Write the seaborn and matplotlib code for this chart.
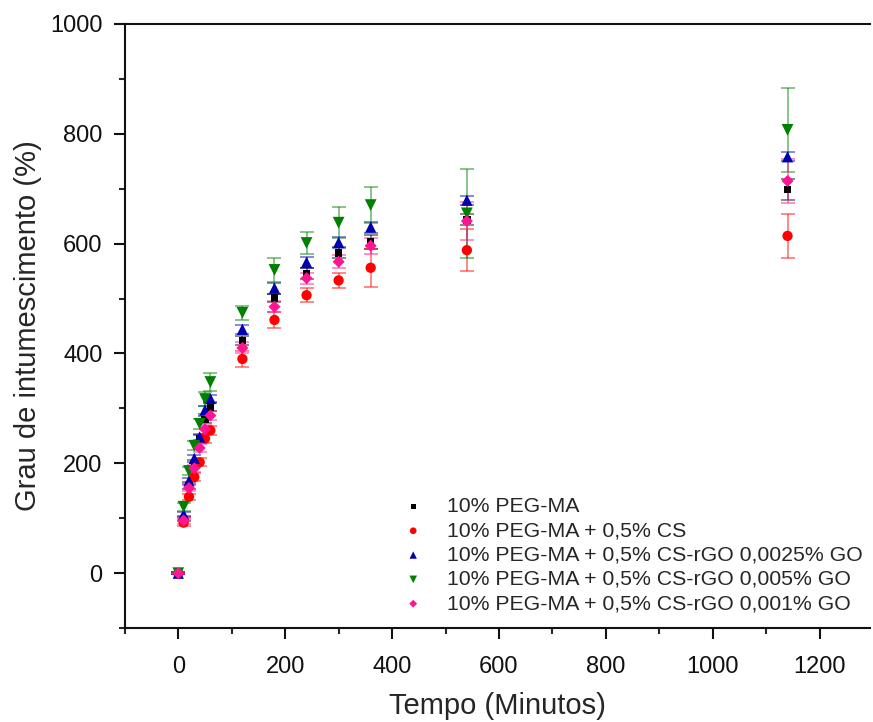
import matplotlib
matplotlib.use("Agg")
import matplotlib.pyplot as plt
import numpy as np
import pandas as pd
import seaborn as sns
from matplotlib.ticker import MultipleLocator

# time points (min)
tempo = [0, 10, 20, 30, 40, 50, 60, 120, 180, 240, 300, 360, 540, 1140]

labels = [
    "10% PEG-MA",
    "10% PEG-MA + 0,5% CS",
    "10% PEG-MA + 0,5% CS-rGO 0,0025% GO",
    "10% PEG-MA + 0,5% CS-rGO 0,005% GO",
    "10% PEG-MA + 0,5% CS-rGO 0,001% GO",
]

peg = [0, 100, 160, 200, 245, 280, 302, 424, 501, 545, 583, 603, 643, 698]
peg_err = [2, 5, 6, 6, 6, 7, 7, 8, 8, 10, 10, 12, 10, 19]

cs = [0, 92, 139, 175, 202, 245, 260, 390, 461, 506, 533, 556, 588, 614]
cs_err = [2, 6, 6, 7, 7, 8, 8, 15, 15, 13, 14, 35, 38, 40]

go0025 = [0, 107, 168, 209, 248, 297, 318, 444, 519, 566, 602, 630, 679, 758]
go0025_err = [2, 5, 6, 6, 6, 7, 7, 8, 10, 10, 10, 10, 8, 8]

go005 = [0, 121, 186, 232, 272, 317, 348, 474, 552, 601, 638, 670, 655, 807]
go005_err = [2, 7, 7, 8, 9, 12, 17, 13, 22, 20, 28, 33, 81, 76]

go001 = [0, 96, 155, 191, 228, 262, 287, 410, 485, 537, 567, 596, 641, 714]
go001_err = [2, 6, 6, 6, 7, 8, 8, 10, 10, 10, 12, 15, 35, 40]

series = [peg, cs, go0025, go005, go001]
errors = [peg_err, cs_err, go0025_err, go005_err, go001_err]
colors = ["#000000", "#ff0000", "#0000b0", "#008000", "#ff1493"]
markers = ["s", "o", "^", "v", "D"]
sizes = [28, 55, 66, 72, 38]

rows = []
for lab, vals, errs in zip(labels, series, errors):
    for t, v, e in zip(tempo, vals, errs):
        rows.append({"Tempo": t, "Grau": v, "err": e, "Amostra": lab})
df = pd.DataFrame(rows)

sns.set_theme(style="ticks")
plt.rcParams["font.family"] = ["Liberation Sans", "DejaVu Sans"]

fig, ax = plt.subplots(figsize=(8.73, 7.22), dpi=100)
fig.subplots_adjust(left=0.143, right=0.997, bottom=0.130, top=0.967)

for lab, col in zip(labels, colors):
    sub = df[df["Amostra"] == lab]
    ax.errorbar(sub["Tempo"], sub["Grau"], yerr=sub["err"], fmt="none",
                ecolor=col, alpha=0.5, elinewidth=1.3, capsize=5, capthick=1.3, zorder=2)

for lab, col, mk, sz in zip(labels, colors, markers, sizes):
    sub = df[df["Amostra"] == lab]
    sns.scatterplot(data=sub, x="Tempo", y="Grau", color=col, marker=mk, s=sz,
                    edgecolor="none", label=lab, ax=ax, zorder=3)

ax.set_xlim(-100, 1295)
ax.set_ylim(-100, 1000)
ax.xaxis.set_major_locator(MultipleLocator(200))
ax.xaxis.set_minor_locator(MultipleLocator(100))
ax.yaxis.set_major_locator(MultipleLocator(200))
ax.yaxis.set_minor_locator(MultipleLocator(100))
ax.tick_params(which="major", direction="out", length=8, width=1.5, labelsize=17, pad=6, colors="#111111")
ax.tick_params(which="minor", direction="out", length=4.5, width=1.5)
ax.tick_params(axis="x", pad=12)
ax.tick_params(axis="y", pad=8)
for side in ["left", "bottom", "top"]:
    ax.spines[side].set_linewidth(1.5)
    ax.spines[side].set_color("#111111")
ax.spines["right"].set_visible(False)

ax.set_xlabel("Tempo (Minutos)", fontsize=21, labelpad=10)
ax.set_ylabel("Grau de intumescimento (%)", fontsize=21, labelpad=6)

leg = ax.legend(loc="lower right", bbox_to_anchor=(1.01, 0.0), frameon=False, fontsize=15.3,
                markerscale=0.65, handletextpad=0.8, handlelength=1.6,
                labelspacing=0.25, borderaxespad=0.3)

fig.savefig("out.png", dpi=100)
